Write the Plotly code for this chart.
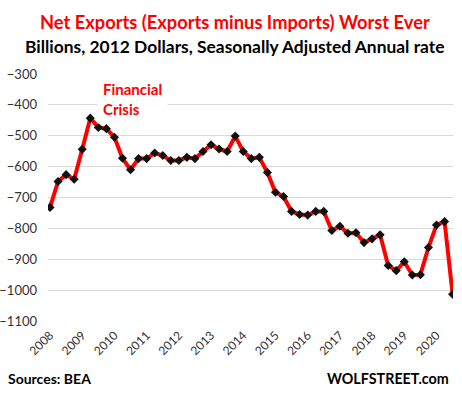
import plotly.graph_objects as go

# Quarterly data, 2008 Q1 .. 2020 Q3 (billions, 2012 dollars, SAAR)
quarters = [f"{y} Q{q}" for y in range(2008, 2021) for q in range(1, 5)][:51]
net_exports = [
    -732, -648, -626, -641,
    -544, -443, -473, -477,
    -505, -573, -610, -574,
    -574, -556, -564, -580,
    -580, -570, -574, -551,
    -529, -543, -551, -501,
    -551, -574, -570, -619,
    -683, -697, -745, -755,
    -757, -745, -745, -807,
    -793, -816, -814, -846,
    -834, -821, -920, -937,
    -908, -951, -950, -862,
    -789, -778, -1013,
]
year_labels = [str(y) for y in range(2008, 2021)]
y_ticks = [-300, -400, -500, -600, -700, -800, -900, -1000, -1100]

x_idx = list(range(len(net_exports)))
tick_positions = [quarters.index(f"{y} Q1") for y in year_labels]

FONT = "Lato"

fig = go.Figure()
fig.add_trace(go.Scatter(
    x=x_idx, y=net_exports, mode="lines+markers",
    line=dict(color="#ff0000", width=4),
    marker=dict(symbol="diamond", color="#111111", size=7),
    text=quarters, hoverinfo="text+y", showlegend=False,
))

fig.update_layout(
    width=462, height=395,
    margin=dict(l=48, r=9, t=74, b=74, autoexpand=False),
    paper_bgcolor="white", plot_bgcolor="white",
    font=dict(family=FONT, color="#222"),
    xaxis=dict(
        range=[-0.25, 50.05], tickvals=tick_positions, ticktext=year_labels,
        tickangle=-45, showgrid=False, zeroline=False, showline=False,
        tickfont=dict(size=12, color="#333"), ticks="", ticklabelstandoff=4,
    ),
    yaxis=dict(
        range=[-1100, -300], tickvals=y_ticks, showgrid=True,
        gridcolor="#d9d9d9", gridwidth=1, zeroline=False, showline=False,
        tickfont=dict(size=13, color="#333"), ticks="", ticklabelstandoff=10,
        tickformat="d",
    ),
    annotations=[
        dict(xref="paper", yref="paper", x=0.4605, y=1.2105, xanchor="center", yanchor="middle",
             text="<b>Net Exports (Exports minus Imports) Worst Ever</b>", showarrow=False,
             font=dict(family=FONT, size=18.3, color="#ff0000")),
        dict(xref="paper", yref="paper", x=0.4605, y=1.113, xanchor="center", yanchor="middle",
             text="<b>Billions, 2012 Dollars, Seasonally Adjusted Annual rate</b>", showarrow=False,
             font=dict(family=FONT, size=17.4, color="#000")),
        dict(xref="x", yref="y", x=5.83, y=-380, xanchor="left", yanchor="middle",
             text="<b>Financial<br>Crisis</b>", showarrow=False, align="left",
             bgcolor="white", borderpad=5,
             font=dict(family=FONT, size=15, color="#ff0000")),
        dict(xref="paper", yref="paper", x=-0.1037, y=-0.232, xanchor="left", yanchor="middle",
             text="<b>Sources: BEA</b>", showarrow=False,
             font=dict(family=FONT, size=14, color="#000")),
        dict(xref="paper", yref="paper", x=0.995, y=-0.232, xanchor="right", yanchor="middle",
             text="<b>WOLFSTREET.com</b>", showarrow=False,
             font=dict(family=FONT, size=14.3, color="#000")),
    ],
)

fig.write_html("out.html", config={"displayModeBar": False},
               post_script="document.body.style.margin='0';")
